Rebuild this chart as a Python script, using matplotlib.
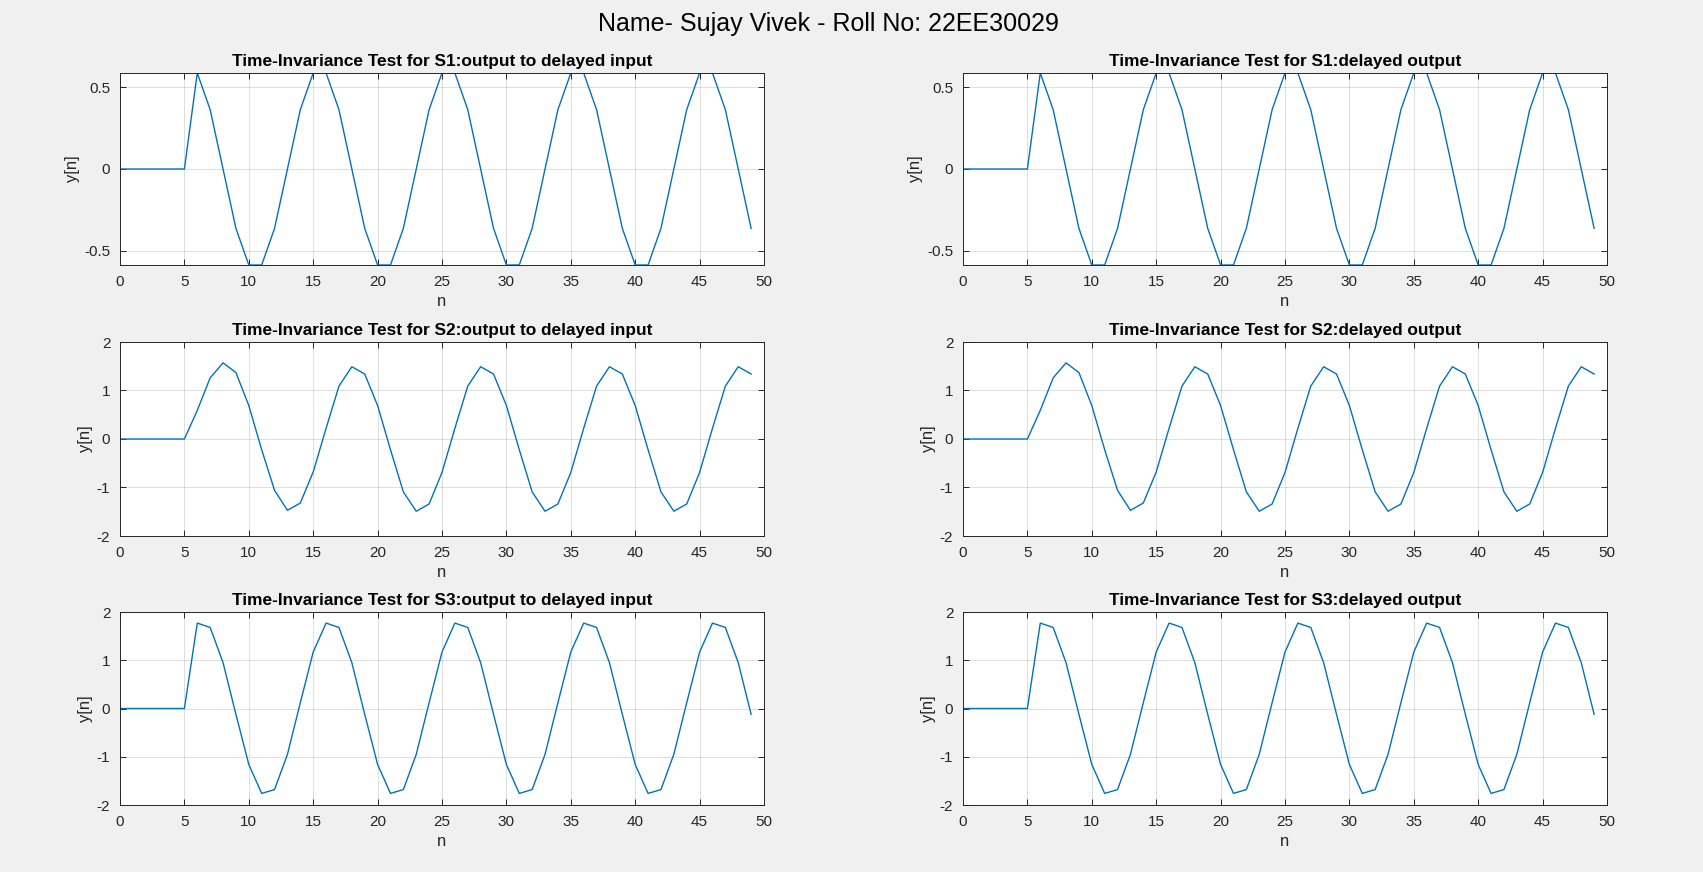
import matplotlib
matplotlib.use('Agg')
import matplotlib.pyplot as plt
from matplotlib.ticker import FormatStrFormatter

plt.rcParams['font.family'] = ['Liberation Sans', 'DejaVu Sans']
plt.rcParams['axes.unicode_minus'] = False

n = list(range(50))

s1_output_delayed_input = [
    0, 0, 0, 0, 0, 0, 0.5878,
    0.3633, 0, -0.3633, -0.5878, -0.5878, -0.3633, 0, 0.3633, 0.5878, 0.5878,
    0.3633, 0, -0.3633, -0.5878, -0.5878, -0.3633, 0, 0.3633, 0.5878, 0.5878,
    0.3633, 0, -0.3633, -0.5878, -0.5878, -0.3633, 0, 0.3633, 0.5878, 0.5878,
    0.3633, 0, -0.3633, -0.5878, -0.5878, -0.3633, 0, 0.3633, 0.5878, 0.5878,
    0.3633, 0, -0.3633,
]
s1_delayed_output = [
    0, 0, 0, 0, 0, 0, 0.5878,
    0.3633, 0, -0.3633, -0.5878, -0.5878, -0.3633, 0, 0.3633, 0.5878, 0.5878,
    0.3633, 0, -0.3633, -0.5878, -0.5878, -0.3633, 0, 0.3633, 0.5878, 0.5878,
    0.3633, 0, -0.3633, -0.5878, -0.5878, -0.3633, 0, 0.3633, 0.5878, 0.5878,
    0.3633, 0, -0.3633, -0.5878, -0.5878, -0.3633, 0, 0.3633, 0.5878, 0.5878,
    0.3633, 0, -0.3633,
]

s2_output_delayed_input = [
    0, 0, 0, 0, 0, 0,
    0.59, 1.26, 1.57, 1.37, 0.69, -0.22, -1.06, -1.47, -1.32, -0.68,
    0.22, 1.09, 1.49, 1.34, 0.69, -0.22, -1.09, -1.49, -1.34, -0.69,
    0.22, 1.09, 1.49, 1.34, 0.69, -0.22, -1.09, -1.49, -1.34, -0.69,
    0.22, 1.09, 1.49, 1.34, 0.69, -0.22, -1.09, -1.49, -1.34, -0.69,
    0.22, 1.09, 1.49, 1.34,
]
s2_delayed_output = [
    0, 0, 0, 0, 0, 0,
    0.59, 1.26, 1.57, 1.37, 0.69, -0.22, -1.06, -1.47, -1.32, -0.68,
    0.22, 1.09, 1.49, 1.34, 0.69, -0.22, -1.09, -1.49, -1.34, -0.69,
    0.22, 1.09, 1.49, 1.34, 0.69, -0.22, -1.09, -1.49, -1.34, -0.69,
    0.22, 1.09, 1.49, 1.34, 0.69, -0.22, -1.09, -1.49, -1.34, -0.69,
    0.22, 1.09, 1.49, 1.34,
]

s3_output_delayed_input = [
    0, 0, 0, 0, 0, 0,
    1.77, 1.68, 0.95, -0.12, -1.16, -1.76, -1.68, -0.95, 0.12, 1.17,
    1.77, 1.68, 0.95, -0.12, -1.16, -1.76, -1.68, -0.95, 0.12, 1.17,
    1.77, 1.68, 0.95, -0.12, -1.16, -1.76, -1.68, -0.95, 0.12, 1.17,
    1.77, 1.68, 0.95, -0.12, -1.16, -1.76, -1.68, -0.95, 0.12, 1.17,
    1.77, 1.68, 0.95, -0.12,
]
s3_delayed_output = [
    0, 0, 0, 0, 0, 0,
    1.77, 1.68, 0.95, -0.12, -1.16, -1.76, -1.68, -0.95, 0.12, 1.17,
    1.77, 1.68, 0.95, -0.12, -1.16, -1.76, -1.68, -0.95, 0.12, 1.17,
    1.77, 1.68, 0.95, -0.12, -1.16, -1.76, -1.68, -0.95, 0.12, 1.17,
    1.77, 1.68, 0.95, -0.12, -1.16, -1.76, -1.68, -0.95, 0.12, 1.17,
    1.77, 1.68, 0.95, -0.12,
]

titles = [
    ["Time-Invariance Test for S1:output to delayed input", "Time-Invariance Test for S1:delayed output"],
    ["Time-Invariance Test for S2:output to delayed input", "Time-Invariance Test for S2:delayed output"],
    ["Time-Invariance Test for S3:output to delayed input", "Time-Invariance Test for S3:delayed output"],
]
series = [
    [s1_output_delayed_input, s1_delayed_output],
    [s2_output_delayed_input, s2_delayed_output],
    [s3_output_delayed_input, s3_delayed_output],
]
ylims = [(-0.5878, 0.5878), (-2, 2), (-2, 2)]
yticks = [[-0.5, 0, 0.5], [-2, -1, 0, 1, 2], [-2, -1, 0, 1, 2]]
xticks = list(range(0, 51, 5))
suptitle = "Name- Sujay Vivek - Roll No: 22EE30029"

W, H = 1703, 872
fig = plt.figure(figsize=(W / 100, H / 100), dpi=100, facecolor='#F0F0F0')

col_left = [120, 963]
col_width = 644
row_tb = [(73, 265), (342, 536), (612, 805)]
dark = '#262626'

for r in range(3):
    for c in range(2):
        top, bot = row_tb[r]
        ax = fig.add_axes([col_left[c] / W, 1 - bot / H, col_width / W, (bot - top) / H])
        ax.plot(n, series[r][c], color='#0072BD', lw=1.0)
        ax.set_xlim(0, 50)
        ax.set_ylim(*ylims[r])
        ax.set_xticks(xticks)
        ax.set_yticks(yticks[r])
        ax.yaxis.set_major_formatter(FormatStrFormatter('%g'))
        ax.grid(True, color=dark, alpha=0.15, lw=0.7)
        ax.tick_params(axis='both', direction='in', top=True, right=True, length=4.5,
                       width=0.7, colors=dark, labelsize=11)
        ax.tick_params(axis='x', pad=7)
        ax.tick_params(axis='y', pad=7)
        for sp in ax.spines.values():
            sp.set_color(dark)
            sp.set_linewidth(0.7)
        ax.set_title(titles[r][c], fontsize=12.4, fontweight='bold', pad=5, color='black')
        ax.set_xlabel('n', fontsize=12, color=dark, labelpad=3.6)
        ax.set_ylabel('y[n]', fontsize=12, color=dark, labelpad=3)

fig.text(828.5 / W, 1 - 24 / H, suptitle, ha='center', va='center', fontsize=18, color='black')

fig.savefig('out.png', dpi=100, facecolor=fig.get_facecolor())
